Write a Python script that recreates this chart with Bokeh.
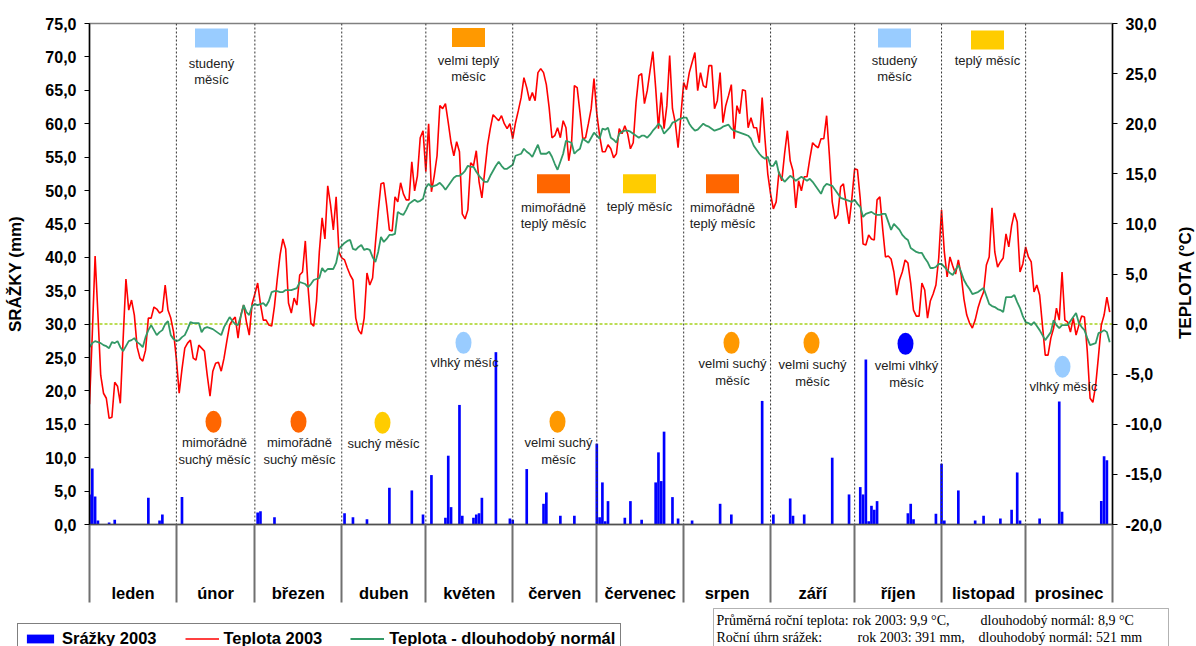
import math
from bokeh.plotting import figure
from bokeh.layouts import column, row
from bokeh.models import (Range1d, LinearAxis, FixedTicker, CustomJSTickFormatter, Span, Label,
                          Legend, LegendItem, BoxAnnotation)
from bokeh.core.properties import value
from bokeh.embed import file_html
from bokeh.resources import INLINE

# ---------------- data ----------------
months = ["leden", "únor", "březen", "duben", "květen", "červen",
          "červenec", "srpen", "září", "říjen", "listopad", "prosinec"]
month_days = [31, 28, 31, 30, 31, 30, 31, 31, 30, 31, 30, 31]

# daily temperature 2003 (°C)
temp_2003 = [
    # leden
    -8.0, -1.0, 6.8, 1.0, -5.1, -6.9, -7.4, -9.4, -9.3, -5.8, -6.2, -7.9, -1.5, 4.5, 1.4, 2.4,
    0.9, -2.3, -3.4, -3.7, -2.6, 0.6, 0.6, 1.7, 1.5, 1.1, 1.3, 3.9, 1.4, 0.6, -0.8,
    # únor
    -3.5, -6.9, -4.5, -2.4, -1.9, -1.6, -3.4, -3.6, -2.1, -2.4, -2.7, -5.1, -7.2, -4.7,
    -3.9, -3.8, -4.7, -3.4, -1.7, -0.1, 0.4, 0.7, -1.4, 0.9, 1.9, 0.2, -1.1, 2.0,
    # březen
    3.0, 4.1, 2.0, 0.4, 0.4, -0.1, -0.2, 1.8, 4.5, 6.9, 8.5, 7.5, 2.1, 1.1, 2.6, 1.9,
    4.9, 5.2, 8.3, 3.6, 0.1, -0.2, 2.3, 7.2, 10.6, 8.5, 13.8, 11.9, 9.4, 12.7, 7.2,
    # duben
    6.6, 6.4, 5.6, 4.9, 4.4, 0.6, -0.6, -1.0, 0.6, 5.1, 3.9, 4.6, 8.0, 11.2, 14.0,
    14.1, 11.9, 9.4, 9.3, 12.7, 12.2, 14.1, 13.0, 12.4, 12.4, 16.2, 13.3, 14.8, 18.6, 19.3,
    # květen
    15.2, 20.0, 13.2, 14.8, 16.8, 21.8, 21.5, 22.0, 20.1, 18.1, 16.8, 18.2, 17.2, 11.0, 10.5,
    11.4, 16.1, 15.8, 17.3, 14.2, 12.6, 15.2, 17.8, 19.5, 20.9, 20.6, 20.3, 20.8, 20.0, 19.5, 20.0,
    # červen
    18.5, 20.1, 21.3, 22.6, 24.6, 23.6, 22.3, 23.1, 22.3, 25.1, 25.5, 25.1, 23.9, 21.6, 18.6,
    18.8, 19.6, 18.6, 20.3, 19.6, 16.3, 18.1, 23.8, 23.6, 21.1, 18.5, 18.6, 20.0, 21.5, 24.5,
    # červenec
    21.0, 18.8, 17.2, 17.2, 17.9, 17.5, 16.6, 17.0, 19.5, 19.0, 19.8, 19.0, 17.5, 18.1, 22.1,
    24.8, 25.0, 22.0, 23.3, 25.3, 27.2, 23.6, 19.5, 23.1, 19.5, 21.8, 26.8, 21.5, 20.1, 17.6, 20.8,
    # srpen
    24.1, 23.4, 25.1, 26.1, 27.1, 23.3, 25.1, 23.8, 23.6, 25.8, 25.8, 21.5, 22.3, 25.1, 20.1,
    21.8, 22.8, 23.9, 18.5, 21.8, 21.0, 23.4, 23.3, 19.6, 20.6, 19.6, 19.6, 18.1, 22.6, 18.5, 15.0,
    # září
    13.0, 11.5, 12.2, 15.2, 14.3, 17.0, 19.3, 16.3, 15.3, 11.6, 14.3, 13.3, 14.7, 14.7, 16.5,
    18.1, 17.8, 17.6, 18.5, 18.5, 20.8, 16.8, 12.2, 10.5, 10.9, 13.7, 14.0, 11.9, 10.0, 12.5,
    # říjen
    15.5, 15.4, 12.5, 8.0, 7.9, 8.9, 8.5, 8.4, 12.4, 12.7, 9.5, 6.7, 6.8, 6.5, 5.2, 2.9,
    4.4, 5.2, 6.4, 6.1, 4.1, 1.4, 0.8, 0.8, 4.1, 3.4, 0.6, 2.3, 3.0, 3.9, 6.6,
    # listopad
    11.4, 7.2, 4.7, 6.7, 5.8, 5.0, 6.4, 4.9, 2.5, 0.9, 0.1, -0.4, 0.4, 1.6, 2.5,
    3.2, 5.9, 6.7, 11.6, 7.2, 5.7, 6.2, 6.6, 9.0, 7.7, 9.8, 11.1, 10.2, 5.2, 6.0,
    # prosinec
    7.7, 6.7, 6.2, 3.2, 3.9, 2.9, -0.1, -3.1, -3.1, -1.4, -0.4, 1.6, 0.4, 5.2, 0.4, 0.2,
    -0.8, 0.6, -1.1, -0.1, 0.8, 0.7, -2.7, -7.4, -7.8, -6.1, -3.2, -0.1, 0.9, 2.7, 1.2,
]

# daily long-term normal temperature (°C)
temp_normal = [
    # leden
    -2.3, -1.9, -1.7, -1.8, -1.9, -2.1, -2.2, -2.4, -1.8, -1.9, -1.7, -2.3, -2.7, -2.2, -1.7, -1.6,
    -1.4, -1.8, -2.0, -2.3, -1.3, -0.6, -0.1, -0.6, -1.1, -0.8, -0.6, 0.0, 0.3, -1.1, -1.5,
    # únor
    -1.7, -1.6, -1.3, -1.1, -0.5, 0.2, 0.1, 0.1, 0.1, -0.8, -0.4, -0.3, -0.4, -0.5,
    -0.7, -0.9, -1.1, -0.3, 0.2, 0.7, 0.3, 0.0, -0.1, 0.8, 1.9, 1.2, 0.9, 1.8,
    # březen
    2.0, 1.9, 2.0, 2.1, 1.8, 2.3, 3.2, 3.3, 3.3, 3.2, 3.2, 3.4, 3.4, 3.4, 3.5, 3.6,
    4.2, 4.1, 4.0, 3.7, 4.0, 4.4, 4.5, 4.6, 5.6, 5.2, 5.5, 5.5, 5.5, 6.1, 7.5,
    # duben
    7.8, 8.1, 8.3, 8.4, 7.5, 7.4, 7.7, 7.9, 7.4, 7.5, 7.4, 6.7, 6.2, 7.2, 8.7,
    8.2, 8.5, 8.9, 8.9, 9.0, 11.2, 11.0, 10.9, 11.4, 12.0, 12.2, 12.4, 12.2, 12.3, 12.5,
    # květen
    13.6, 14.0, 13.7, 13.8, 13.9, 14.1, 13.8, 13.4, 13.8, 14.2, 14.6, 14.8, 14.8, 15.0, 15.3,
    15.8, 15.7, 15.7, 15.2, 14.8, 14.5, 14.2, 14.2, 14.8, 15.3, 15.8, 16.2, 15.8, 15.5, 15.5, 15.7,
    # červen
    15.9, 16.8, 16.9, 17.0, 17.5, 17.2, 17.0, 16.7, 17.3, 17.9, 17.0, 17.0, 17.0, 17.2, 16.7,
    16.0, 15.4, 16.2, 17.0, 18.3, 18.2, 18.1, 17.0, 17.3, 17.5, 18.5, 18.3, 18.1, 18.6, 19.1,
    # červenec
    18.8, 18.5, 19.5, 19.4, 19.6, 18.6, 18.4, 18.1, 19.0, 19.2, 19.3, 19.3, 19.2, 19.0, 18.8,
    18.6, 18.8, 18.8, 18.6, 18.9, 19.3, 19.6, 20.0, 19.7, 19.0, 19.3, 19.6, 20.1, 20.2, 20.4, 20.5,
    # srpen
    20.6, 20.6, 20.0, 19.6, 19.3, 19.4, 19.7, 20.0, 19.8, 19.7, 19.5, 19.3, 19.4, 19.5, 19.7,
    19.8, 19.9, 19.5, 19.3, 19.2, 19.1, 19.0, 18.9, 18.8, 18.5, 17.8, 17.4, 17.0, 16.7, 16.5, 16.7,
    # září
    15.8, 15.8, 16.3, 15.0, 14.6, 14.2, 14.5, 14.8, 14.6, 14.3, 14.5, 14.7, 14.5, 14.3, 14.5,
    14.2, 13.8, 13.4, 13.0, 13.7, 14.0, 13.9, 13.8, 13.4, 13.0, 12.6, 12.5, 12.4, 12.3, 12.2,
    # říjen
    12.4, 12.0, 11.7, 10.7, 11.0, 11.1, 11.2, 11.0, 10.9, 10.9, 11.0, 11.0, 10.2, 9.4, 10.0, 9.7,
    9.4, 8.9, 8.6, 8.4, 7.6, 7.4, 7.2, 7.1, 7.1, 6.6, 6.2, 5.6, 5.6, 5.7, 6.0,
    # listopad
    6.0, 5.7, 5.4, 5.1, 4.9, 5.4, 5.9, 5.2, 4.4, 3.9, 3.5, 3.0, 3.1, 3.2, 3.4,
    3.6, 2.8, 2.0, 1.8, 1.7, 1.5, 1.4, 1.2, 2.7, 2.7, 2.7, 2.9, 2.2, 1.6, 0.8,
    # prosinec
    0.2, 0.1, -0.1, 0.2, -0.2, -0.6, -1.1, -1.6, -1.2, -0.8, 0.4, -0.1, -0.4, -0.1, -0.1, -0.1,
    0.3, 0.7, 1.1, 0.1, -0.3, -0.6, -1.4, -2.1, -2.0, -1.9, -0.9, -0.8, -0.6, -0.8, -1.8,
]

# daily precipitation 2003: day of year (0 = 1 Jan) and amount in mm (other days 0)
rain_day = [0, 1, 2, 3, 7, 9, 21, 25, 26,
            33,
            60, 61, 66,
            91, 94, 99, 107, 115, 119,
            122, 127, 128, 129, 132, 133, 137, 138, 139, 140, 145, 150,
            151, 156, 162, 163, 168, 173,
            181, 182, 183, 184, 185, 191, 193, 197, 202, 203, 204, 205, 208, 210,
            215, 225, 229, 240,
            244, 250, 251, 255, 265, 271,
            275, 276, 277, 278, 279, 280, 281, 292, 293, 294, 302,
            304, 305, 310, 316, 319, 325, 329, 331, 332,
            339, 346, 347, 361, 362, 363]
rain_mm = [4.5, 8.4, 4.2, 0.6, 0.3, 0.7, 4.0, 0.6, 1.5,
           4.1,
           1.8, 2.0, 1.1,
           1.7, 1.1, 0.8, 5.5, 5.1, 1.5,
           7.4, 1.0, 10.3, 2.6, 17.9, 1.3, 1.0, 1.5, 1.7, 4.0, 25.8, 0.9,
           0.7, 8.3, 3.1, 4.8, 1.3, 1.3,
           12.1, 1.1, 6.3, 0.5, 3.5, 1.0, 3.5, 0.7, 6.3, 10.8, 6.5, 13.9, 4.1, 0.9,
           0.6, 3.1, 1.5, 18.5,
           1.5, 3.9, 1.3, 1.5, 10.0, 4.5,
           5.6, 4.5, 24.7, 0.5, 2.8, 2.2, 3.5, 1.7, 3.1, 0.8, 1.6,
           9.1, 0.6, 5.1, 0.6, 1.3, 0.9, 2.2, 7.8, 0.6,
           0.9, 18.4, 1.9, 3.5, 10.2, 9.6]

# month classification notes
temp_notes = [("únor", "studený\nměsíc", "#99ccff"),
              ("květen", "velmi teplý\nměsíc", "#ff9900"),
              ("červen", "mimořádně\nteplý měsíc", "#ff6600"),
              ("červenec", "teplý měsíc", "#ffcc00"),
              ("srpen", "mimořádně\nteplý měsíc", "#ff6600"),
              ("říjen", "studený\nměsíc", "#99ccff"),
              ("listopad", "teplý měsíc", "#ffcc00")]
rain_notes = [("leden", "mimořádně\nsuchý měsíc", "#ff6600"),
              ("březen", "mimořádně\nsuchý měsíc", "#ff6600"),
              ("duben", "suchý měsíc", "#ffcc00"),
              ("květen", "vlhký měsíc", "#99ccff"),
              ("červen", "velmi suchý\nměsíc", "#ff9900"),
              ("srpen", "velmi suchý\nměsíc", "#ff9900"),
              ("září", "velmi suchý\nměsíc", "#ff9900"),
              ("říjen", "velmi vlhký\nměsíc", "#0000ff"),
              ("prosinec", "vlhký měsíc", "#99ccff")]

legend_labels = ["Srážky 2003", "Teplota 2003", "Teplota - dlouhodobý normál"]
footnote = [[("Průměrná roční teplota:", 716), ("rok 2003: 9,9 °C,", 852), ("dlouhodobý normál: 8,9 °C", 980)],
            [("Roční úhrn srážek:", 716), ("rok 2003: 391 mm,", 857), ("dlouhodobý normál: 521 mm", 978)]]

# ---------------- layout (page pixels) ----------------
W = 1196
W_MAIN = 1170                # chart figure width (rest: right axis title strip)
H_TOP = 604                  # chart figure height
H_BOT = 646 - H_TOP          # legend / footnote strip
FL, FR, FT, FB = 89, 1112, 23, 525   # frame edges in page pixels

days = list(range(sum(month_days)))
bounds = [0]
for d in month_days:
    bounds.append(bounds[-1] + d)
centers = [(bounds[i] + bounds[i + 1]) / 2 for i in range(12)]

FONT = "Liberation Sans"

p = figure(width=W_MAIN, height=H_TOP, x_range=Range1d(0, 365), y_range=Range1d(0, 75),
           output_backend="svg", toolbar_location=None,
           min_border_left=FL, min_border_right=W_MAIN - FR,
           min_border_top=FT, min_border_bottom=H_TOP - FB)
p.frame_align = False
p.extra_y_ranges = {"temp": Range1d(-20, 30)}
p.xgrid.visible = False
p.ygrid.visible = False
p.outline_line_color = "#808080"
p.outline_line_width = 1.5
p.background_fill_color = "white"
p.border_fill_color = "white"

ya = p.yaxis[0]
ya.ticker = FixedTicker(ticks=list(range(0, 76, 5)))
ya.formatter = CustomJSTickFormatter(code="return tick.toFixed(1).replace('.', ',');")
ya.axis_label = "SRÁŽKY (mm)"
ya.axis_label_standoff = 17
ya.axis_label_text_font = FONT
ya.axis_label_text_font_size = "17px"
ya.axis_label_text_font_style = "bold"
ya.axis_label_text_color = "black"

ra = LinearAxis(y_range_name="temp", ticker=FixedTicker(ticks=list(range(-20, 31, 5))),
                formatter=CustomJSTickFormatter(code="return tick.toFixed(1).replace('.', ',');"))
p.add_layout(ra, "right")

for ax in [ya, ra]:
    ax.major_tick_out = 5
    ax.major_tick_in = 0
    ax.minor_tick_out = 0
    ax.minor_tick_in = 0
    ax.axis_line_color = "black"
    ax.axis_line_width = 1.5
    ax.major_tick_line_color = "black"
    ax.major_label_standoff = 8
    ax.major_label_text_font = FONT
    ax.major_label_text_font_size = "16px"
    ax.major_label_text_font_style = "bold"
    ax.major_label_text_color = "black"

xa = p.xaxis[0]
xa.ticker = FixedTicker(ticks=centers, minor_ticks=bounds)
xa.formatter = CustomJSTickFormatter(args=dict(names=months), code="return names[index];")
xa.major_tick_line_color = None
xa.major_tick_out = 0
xa.major_tick_in = 0
xa.minor_tick_out = 78
xa.minor_tick_in = 0
xa.minor_tick_line_color = "#707070"
xa.minor_tick_line_width = 2
xa.axis_line_color = "#505050"
xa.axis_line_width = 1.5
xa.major_label_standoff = -19
xa.major_label_text_font = FONT
xa.major_label_text_font_size = "16.5px"
xa.major_label_text_font_style = "bold"
xa.major_label_text_color = "black"

# month separators in plot
for b in bounds[1:-1]:
    p.add_layout(Span(location=b, dimension="height", line_color="#333333",
                      line_dash="2 2", line_width=1))

# zero-degree line
p.line(x=[0, 365], y=[0, 0], y_range_name="temp", line_color="#a6d21e",
       line_dash="3 2", line_width=1.5)

bars = p.vbar(x=rain_day, top=rain_mm, width=0.95, fill_color="#0000ff", line_color=None)
red = p.line(x=days, y=temp_2003, y_range_name="temp", line_color="#ff0000", line_width=1.6)
green = p.line(x=days, y=temp_normal, y_range_name="temp", line_color="#339966", line_width=1.8)

# ---------- annotation markers (positions in page px) ----------
def dx(px):
    return (px - FL) * 365.0 / (FR - FL)

def dy(py):
    return (FB - py) * 75.0 / (FB - FT)

temp_pos = {"únor": (211, 37.5, 63), "květen": (468, 37, 60), "červen": (553, 183.5, 207),
            "červenec": (639, 183.5, 206), "srpen": (722, 183.5, 207), "říjen": (894, 37.5, 60),
            "listopad": (987, 39.5, 60)}
rain_pos = {"leden": (213, 422, 443), "březen": (298, 422, 443), "duben": (382, 423, 444),
            "květen": (463, 343, 363), "červen": (557, 422, 443), "srpen": (731, 343, 364),
            "září": (811, 343, 365), "říjen": (905, 344, 366), "prosinec": (1062, 367, 387)}

rx, ry, rc = [], [], []
tx, ty, tt = [], [], []
for m, txt, col in temp_notes:
    cx, cy, ty0 = temp_pos[m]
    rx.append(dx(cx)); ry.append(dy(cy)); rc.append(col)
    for i, line in enumerate(txt.split("\n")):
        tx.append(dx(cx)); ty.append(dy(ty0 + 16.5 * i)); tt.append(line)
p.rect(x=rx, y=ry, width=33, height=19, width_units="screen", height_units="screen",
       fill_color=rc, line_color=None)

ex, ey, ec = [], [], []
for m, txt, col in rain_notes:
    cx, cy, ty0 = rain_pos[m]
    ex.append(dx(cx)); ey.append(dy(cy)); ec.append(col)
    for i, line in enumerate(txt.split("\n")):
        tx.append(dx(cx + 1)); ty.append(dy(ty0 + 16.5 * i)); tt.append(line)
p.ellipse(x=ex, y=ey, width=16, height=22, width_units="screen", height_units="screen",
          fill_color=ec, line_color=None)

p.text(x=tx, y=ty, text=tt, text_align="center", text_baseline="middle",
       text_font=value(FONT), text_font_size="13px", text_color="#222222")

# ---------------- right axis title strip ----------------
t = figure(width=W - W_MAIN, height=H_TOP, x_range=Range1d(0, W - W_MAIN), y_range=Range1d(H_TOP, 0),
           output_backend="svg", toolbar_location=None, x_axis_type=None, y_axis_type=None,
           min_border_left=0, min_border_right=0, min_border_top=0, min_border_bottom=0)
t.frame_align = False
t.xgrid.visible = False
t.ygrid.visible = False
t.outline_line_color = None
t.background_fill_color = "white"
t.border_fill_color = "white"
t.add_layout(Label(x=1185 - W_MAIN, y=282, text="TEPLOTA (°C)", angle=math.pi / 2,
                   text_align="center", text_baseline="middle",
                   text_font=FONT, text_font_size="17px", text_font_style="bold", text_color="black"))

# ---------------- bottom strip: legend + footnote ----------------
q = figure(width=W, height=H_BOT, x_range=Range1d(0, W), y_range=Range1d(H_BOT, 0),
           output_backend="svg", toolbar_location=None, x_axis_type=None, y_axis_type=None,
           min_border_left=0, min_border_right=0, min_border_top=0, min_border_bottom=0)
q.frame_align = False
q.xgrid.visible = False
q.ygrid.visible = False
q.outline_line_color = None
q.background_fill_color = "white"
q.border_fill_color = "white"

# legend swatch proxies (styled like the chart's series, placed outside the visible area)
lb = q.vbar(x=[-100], top=[-100], width=1, fill_color="#0000ff", line_color=None)
lr = q.line(x=[-100, -90], y=[-100, -100], line_color="#ff0000", line_width=1.6)
lg = q.line(x=[-100, -90], y=[-100, -100], line_color="#339966", line_width=1.8)

legend = Legend(items=[LegendItem(label=legend_labels[0], renderers=[lb]),
                       LegendItem(label=legend_labels[1], renderers=[lr]),
                       LegendItem(label=legend_labels[2], renderers=[lg])],
                location=(17, -8), orientation="horizontal",
                border_line_color="black", border_line_width=1,
                background_fill_color="white", background_fill_alpha=1.0,
                padding=5, spacing=28, label_standoff=5, glyph_width=34, glyph_height=11,
                label_height=14, margin=0,
                label_text_font=FONT, label_text_font_size="16.5px", label_text_font_style="bold",
                label_text_color="black")
q.add_layout(legend)

q.add_layout(BoxAnnotation(left=713, right=1168, top=608 - H_TOP, bottom=H_BOT + 20,
                           fill_alpha=0, line_color="black", line_width=1))
for row_items, yy in zip(footnote, [620, 637]):
    for txt, xx in row_items:
        q.add_layout(Label(x=xx, y=yy - H_TOP, text=txt,
                           text_align="left", text_baseline="middle",
                           text_font="Liberation Serif", text_font_size="14px", text_color="black"))

layout = column(row(p, t, spacing=0), q, spacing=0)
open("out.html", "w").write(file_html(layout, INLINE))
